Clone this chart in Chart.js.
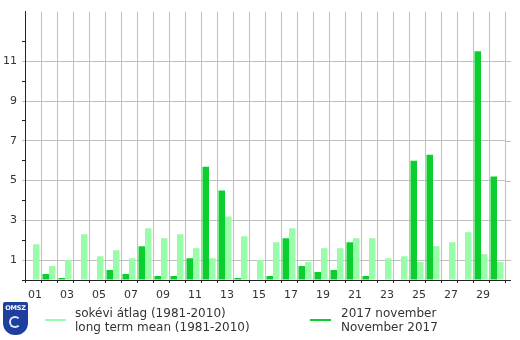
<!DOCTYPE html>
<html>
<head>
<meta charset="utf-8">
<script src="https://cdn.jsdelivr.net/npm/chart.js@4/dist/chart.umd.min.js"></script>
<style>
  html, body { margin: 0; padding: 0; background: #fff; }
  #wrap { position: relative; width: 520px; height: 340px; overflow: hidden; }
  #c { position: absolute; left: 0; top: 0; }
  .leg { position: absolute; font-family: "DejaVu Sans", Verdana, sans-serif; font-size: 12px; line-height: 14px; color: #333; white-space: nowrap; }
  .sw { position: absolute; height: 2px; width: 21px; }
  #logo { position: absolute; left: 3px; top: 302px; width: 25px; height: 33px; background: #1f3f9f; border-radius: 2px 2px 12px 12px; }
  #logo span { position: absolute; left: 0; top: 2px; width: 25px; text-align: center; font-family: "DejaVu Sans", sans-serif; font-weight: bold; font-size: 6.5px; color: #fff; letter-spacing: -0.2px; }
  #logo i { position: absolute; left: 6px; top: 14px; width: 12px; height: 12px; border-radius: 50%; border: 2px solid #dfe8ff; border-right-color: transparent; box-sizing: border-box; }
</style>
</head>
<body>
<div id="wrap">
  <canvas id="c" width="520" height="340"></canvas>
  <div id="logo"><span>OMSZ</span><i></i></div>
  <div class="sw" style="left:45px; top:319px; background:#99fca9;"></div>
  <div class="leg" style="left:75px; top:306px;">sokévi átlag (1981-2010)<br>long term mean (1981-2010)</div>
  <div class="sw" style="left:310px; top:319px; background:#0ccf2f;"></div>
  <div class="leg" style="left:341px; top:306px;">2017 november<br>November 2017</div>
</div>
<script>
const days = ["01","02","03","04","05","06","07","08","09","10","11","12","13","14","15","16","17","18","19","20","21","22","23","24","25","26","27","28","29","30"];
const nov2017 = [0, 0.3, 0.1, 0, 0, 0.5, 0.3, 1.7, 0.2, 0.2, 1.1, 5.7, 4.5, 0.1, 0, 0.2, 2.1, 0.7, 0.4, 0.5, 1.9, 0.2, 0, 0, 6.0, 6.3, 0, 0, 11.5, 5.2];
const longTermMean = [1.8, 0.7, 1.0, 2.3, 1.2, 1.5, 1.1, 2.6, 2.1, 2.3, 1.6, 1.1, 3.2, 2.2, 1.0, 1.9, 2.6, 0.9, 1.6, 1.6, 2.1, 2.1, 1.1, 1.2, 0.9, 1.7, 1.9, 2.4, 1.3, 0.9];
const yLabels = [1, 3, 5, 7, 9, 11];

const GRID = '#c0c0c0';
const AXIS = '#222';
const FONT = { family: '"DejaVu Sans", Verdana, sans-serif', size: 11 };

const extendGrid = {
  id: 'extendGrid',
  afterDraw(chart) {
    const ctx = chart.ctx, y = chart.scales.y, area = chart.chartArea;
    ctx.save();
    ctx.lineWidth = 1;
    ctx.strokeStyle = GRID;
    yLabels.forEach(v => {
      const py = Math.round(y.getPixelForValue(v)) + 0.5;
      ctx.beginPath(); ctx.moveTo(area.right, py); ctx.lineTo(area.right + 6, py); ctx.stroke();
    });
    ctx.strokeStyle = AXIS;
    const by = Math.round(area.bottom) + 0.5;
    ctx.beginPath(); ctx.moveTo(area.right, by); ctx.lineTo(area.right + 6, by); ctx.stroke();
    ctx.restore();
  }
};

new Chart(document.getElementById('c'), {
  type: 'bar',
  data: {
    labels: days,
    datasets: [
      { label: '2017 november', data: nov2017, backgroundColor: '#0ccf2f', borderWidth: 0 },
      { label: 'sokévi átlag (1981-2010)', data: longTermMean, backgroundColor: '#99fca9', borderWidth: 0 }
    ]
  },
  options: {
    responsive: false,
    animation: false,
    devicePixelRatio: 1,
    layout: { padding: { top: 10, right: 15, left: 0, bottom: 0 } },
    datasets: { bar: { categoryPercentage: 0.8125, barPercentage: 1.0 } },
    plugins: { legend: { display: false }, tooltip: { enabled: false } },
    scales: {
      x: {
        offset: true,
        grid: { offset: true, color: GRID, tickColor: AXIS, tickLength: 3, lineWidth: 1 },
        border: { color: AXIS, width: 1 },
        ticks: {
          autoSkip: false, maxRotation: 0, padding: 6, labelOffset: 2, color: '#333', font: FONT,
          callback: (v, i) => (i % 2 === 0 ? days[i] : '')
        },
        afterFit: s => { s.height = 60; }
      },
      y: {
        min: 0, max: 13.5,
        grid: {
          tickLength: 3, lineWidth: 1,
          color: c => (yLabels.includes(c.tick.value) ? GRID : 'rgba(0,0,0,0)'),
          tickColor: c => {
            const v = c.tick.value;
            if (yLabels.includes(v)) return GRID;
            if (Number.isInteger(v) && v <= 12) return AXIS;
            return 'rgba(0,0,0,0)';
          }
        },
        border: { color: AXIS, width: 1 },
        ticks: {
          stepSize: 1, padding: 5, color: '#333', font: FONT,
          callback: v => (yLabels.includes(v) ? String(v) : '')
        },
        afterFit: s => { s.width = 25; }
      }
    }
  },
  plugins: [extendGrid]
});
</script>
</body>
</html>
